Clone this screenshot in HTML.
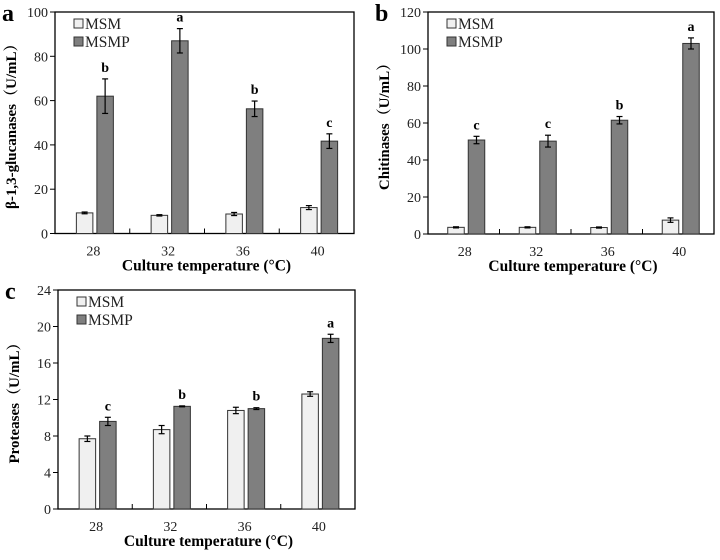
<!DOCTYPE html>
<html><head><meta charset="utf-8"><style>
html,body{margin:0;padding:0;background:#fff;}
svg text{font-family:"Liberation Serif",serif;}
</style></head><body>
<svg id="fig" width="720" height="555" viewBox="0 0 720 555" xmlns="http://www.w3.org/2000/svg"></svg>
<script>
const categories = ["28","32","36","40"];
const aMSM = [9.3, 8.2, 8.8, 11.7];
const aMSMerr = [0.4, 0.3, 0.7, 0.9];
const aMSMP = [62, 87, 56.3, 41.7];
const aMSMPerr = [7.8, 5.5, 3.5, 3.3];
const aLetters = ["b","a","b","c"];
const aTicks = [0,20,40,60,80,100];
const bMSM = [3.6, 3.6, 3.5, 7.5];
const bMSMerr = [0.3, 0.3, 0.3, 1.2];
const bMSMP = [50.8, 50.2, 61.5, 103];
const bMSMPerr = [2, 3.2, 2, 3];
const bLetters = ["c","c","b","a"];
const bTicks = [0,20,40,60,80,100,120];
const cMSM = [7.7, 8.7, 10.8, 12.6];
const cMSMerr = [0.3, 0.45, 0.35, 0.25];
const cMSMP = [9.6, 11.25, 11, 18.7];
const cMSMPerr = [0.45, 0.05, 0.1, 0.45];
const cLetters = ["c","b","b","a"];
const cTicks = [0,4,8,12,16,20,24];

const NS = "http://www.w3.org/2000/svg";
const svg = document.getElementById("fig");
function mk(tag, attrs, parent, text){
  const e = document.createElementNS(NS, tag);
  for (const k in attrs) e.setAttribute(k, attrs[k]);
  if (text !== undefined) e.textContent = text;
  (parent || svg).appendChild(e);
  return e;
}
function panel(id, letter, L, R, T, B, ticks, msm, msmErr, msmp, msmpErr, letters, ytitle){
  const g = mk("g", {}, svg);
  
  
  const ymax = ticks[ticks.length-1];
  const y = v => B - (v / ymax) * (B - T);
  const cw = (R - L) / categories.length;
  const cx = i => L + cw * (i + 0.5);
  const pl = mk("text", {x: L - 53, y: T + 9, "font-size": 24, "font-weight": "bold"}, g, letter);
  
  
  const frame = mk("rect", {x: L, y: T, width: R - L, height: B - T, fill: "none", stroke: "#000", "stroke-width": 1.3}, g);
  
  
  ticks.forEach(t => {
    mk("line", {x1: L - 5, x2: L, y1: y(t), y2: y(t), stroke: "#000", "stroke-width": 1}, g);
    const tl = mk("text", {x: L - 7, y: y(t) + 5, "font-size": 14, "text-anchor": "end", fill: "#222"}, g, String(t));
    
    
  });
  for (let i = 1; i < categories.length; i++) {
    mk("line", {x1: L + cw * i, x2: L + cw * i, y1: B, y2: B - 5, stroke: "#000", "stroke-width": 1}, g);
  }
  categories.forEach((c, i) => {
    const xl = mk("text", {x: cx(i) + 1, y: B + 22, "font-size": 14, "text-anchor": "middle", fill: "#222"}, g, c);
    
    
    const bw = 16.5;
    const x1 = cx(i) - 16, x2 = cx(i) + 4.5;
    const b1 = mk("rect", {x: x1, y: y(msm[i]), width: bw, height: B - y(msm[i]), fill: "#f0f0f0", stroke: "#333", "stroke-width": 1}, g);
    
    
    const b2 = mk("rect", {x: x2, y: y(msmp[i]), width: bw, height: B - y(msmp[i]), fill: "#7f7f7f", stroke: "#333", "stroke-width": 1}, g);
    
    
    [[x1 + bw/2, msm[i], msmErr[i]], [x2 + bw/2, msmp[i], msmpErr[i]]].forEach(([ex, v, e]) => {
      const eg = mk("g", {stroke: "#000", "stroke-width": 1.2}, g);
      
      
      mk("line", {x1: ex, x2: ex, y1: y(v + e), y2: y(v - e)}, eg);
      mk("line", {x1: ex - 3, x2: ex + 3, y1: y(v + e), y2: y(v + e)}, eg);
      mk("line", {x1: ex - 3, x2: ex + 3, y1: y(v - e), y2: y(v - e)}, eg);
    });
    const sl = mk("text", {x: x2 + bw/2, y: y(msmp[i] + msmpErr[i]) - 7, "font-size": 14, "font-weight": "bold", "text-anchor": "middle"}, g, letters[i]);
    
    
  });
  const xt = mk("text", {x: (L + R) / 2 + 2, y: B + 37, "font-size": 15.5, "font-weight": "bold", "text-anchor": "middle"}, g, "Culture temperature (°C)");
  
  
  const yx = L - 39, yy = (T + B) / 2;
  const yt = mk("text", {x: yx, y: yy, "font-size": 15, "font-weight": "bold", "text-anchor": "middle", transform: `rotate(-90 ${yx} ${yy})`, style: 'font-family:"Liberation Serif","Noto Serif CJK SC",serif'}, g, ytitle);
  
  
  const lg = mk("g", {}, g);
  
  
  [["MSM", "#f0f0f0"], ["MSMP", "#7f7f7f"]].forEach(([n, col], k) => {
    const ly = T + 6 + k * 18;
    const e = mk("g", {}, lg);
    
    
    mk("rect", {x: L + 19, y: ly + 1, width: 9, height: 9, fill: col, stroke: "#333", "stroke-width": 1}, e);
    mk("text", {x: L + 30, y: ly + 11, "font-size": 15.5, fill: "#222"}, e, n);
  });
}
panel("a", "a", 55, 354, 12, 233.5, aTicks, aMSM, aMSMerr, aMSMP, aMSMPerr, aLetters, "β-1,3-glucanases（U/mL）");
panel("b", "b", 428, 714, 12, 234, bTicks, bMSM, bMSMerr, bMSMP, bMSMPerr, bLetters, "Chitinases（U/mL）");
panel("c", "c", 58, 355, 290, 509, cTicks, cMSM, cMSMerr, cMSMP, cMSMPerr, cLetters, "Proteases（U/mL）");
</script>
</body></html>
